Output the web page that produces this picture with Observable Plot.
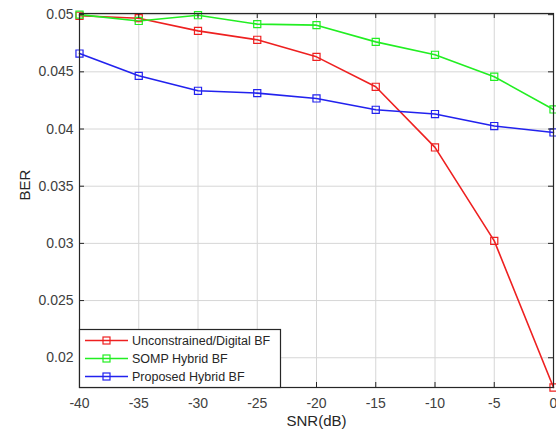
<!DOCTYPE html>
<html><head><meta charset="utf-8">
<script src="https://cdn.jsdelivr.net/npm/d3@7"></script>
<script src="https://cdn.jsdelivr.net/npm/@observablehq/plot@0.6"></script>
<style>body{margin:0;background:#fff;font-family:"Liberation Sans",Arial,sans-serif}</style>
</head><body><div id="chart"></div>
<script>
const snr = [-40, -35, -30, -25, -20, -15, -10, -5, 0];
const unconstrained = [0.0499, 0.04969, 0.04858, 0.0478, 0.04631, 0.04369, 0.03839, 0.03022, 0.0174];
const somp = [0.0500, 0.04945, 0.04995, 0.04917, 0.04908, 0.04762, 0.04649, 0.04457, 0.04171];
const proposed = [0.0466, 0.04465, 0.04334, 0.04314, 0.04267, 0.04168, 0.04131, 0.04026, 0.0397];
const seriesNames = ["Unconstrained/Digital BF", "SOMP Hybrid BF", "Proposed Hybrid BF"];
const seriesColors = ["#ee2020", "#22ee22", "#2222ee"];
const xTicks = [-40, -35, -30, -25, -20, -15, -10, -5, 0];
const yTicks = [0.02, 0.025, 0.03, 0.035, 0.04, 0.045, 0.05];

const W = 556, H = 437, mL = 79, mR = 3, mT = 13, mB = 50;
const plotH = H - mT - mB, plotW = W - mL - mR;
const allSeries = [unconstrained, somp, proposed];
const data = [];
allSeries.forEach((vals, si) => vals.forEach((v, i) => data.push({snr: snr[i], ber: v, s: seriesNames[si]})));

const tickColor = "#262626";
const chart = Plot.plot({
  width: W, height: H,
  marginLeft: mL, marginRight: mR, marginTop: mT, marginBottom: mB,
  style: {fontFamily: '"Liberation Sans", Arial, sans-serif', fontSize: "14px", color: "#404040", background: "#fff"},
  x: {domain: [-40, 0], ticks: xTicks},
  y: {domain: [0.0174, 0.0501], ticks: yTicks},
  color: {domain: seriesNames, range: seriesColors},
  marks: [
    Plot.gridX(xTicks, {stroke: "#d6d6d6", strokeOpacity: 1}),
    Plot.gridY(yTicks, {stroke: "#d6d6d6", strokeOpacity: 1}),
    Plot.line(data, {x: "snr", y: "ber", z: "s", stroke: "s", strokeWidth: 1.6}),
    Plot.dot(data, {x: "snr", y: "ber", stroke: "s", symbol: "square", r: 4, strokeWidth: 1.2}),
    Plot.tickX(xTicks, {x: d => d, stroke: tickColor, insetTop: plotH - 5}),
    Plot.tickX(xTicks, {x: d => d, stroke: tickColor, insetBottom: plotH - 5}),
    Plot.tickY(yTicks, {y: d => d, stroke: tickColor, insetRight: plotW - 5}),
    Plot.tickY(yTicks, {y: d => d, stroke: tickColor, insetLeft: plotW - 5}),
    Plot.axisX(xTicks, {tickSize: 0, tickPadding: 11, fontSize: 14, fill: "#404040", label: null, tickFormat: d => String(d)}),
    Plot.axisY(yTicks, {tickSize: 0, tickPadding: 6, fontSize: 14, fill: "#404040", label: null, tickFormat: d => String(+d.toFixed(3))}),
    Plot.frame({stroke: tickColor, strokeWidth: 1.2}),
    Plot.text(["SNR(dB)"], {frameAnchor: "bottom", dy: 38, fontSize: 15, fill: "#262626"}),
    Plot.text(["BER"], {frameAnchor: "left", dx: -54, rotate: -90, fontSize: 15, fill: "#262626"})
  ]
});
document.getElementById("chart").appendChild(chart);

// legend box inside plot area (bottom-left)
const svg = d3.select(chart);
const lg = svg.append("g").attr("text-anchor", "start");
const lx = mL, ly = 329, lw = 201, lh = 58;
lg.append("rect").attr("x", lx + 0.5).attr("y", ly + 0.5).attr("width", lw).attr("height", lh)
  .attr("fill", "#fff").attr("stroke", tickColor).attr("stroke-width", 1.2);
seriesNames.forEach((name, i) => {
  const yy = ly + 11.5 + i * 18;
  lg.append("line").attr("x1", lx + 6).attr("x2", lx + 49).attr("y1", yy).attr("y2", yy)
    .attr("stroke", seriesColors[i]).attr("stroke-width", 1.6);
  lg.append("rect").attr("x", lx + 24).attr("y", yy - 3.5).attr("width", 7).attr("height", 7)
    .attr("fill", "none").attr("stroke", seriesColors[i]).attr("stroke-width", 1.2);
  lg.append("text").attr("x", lx + 53).attr("y", yy).attr("dy", "0.35em").attr("text-anchor", "start")
    .attr("font-size", 12.5).attr("fill", "#262626").text(name);
});
</script></body></html>
